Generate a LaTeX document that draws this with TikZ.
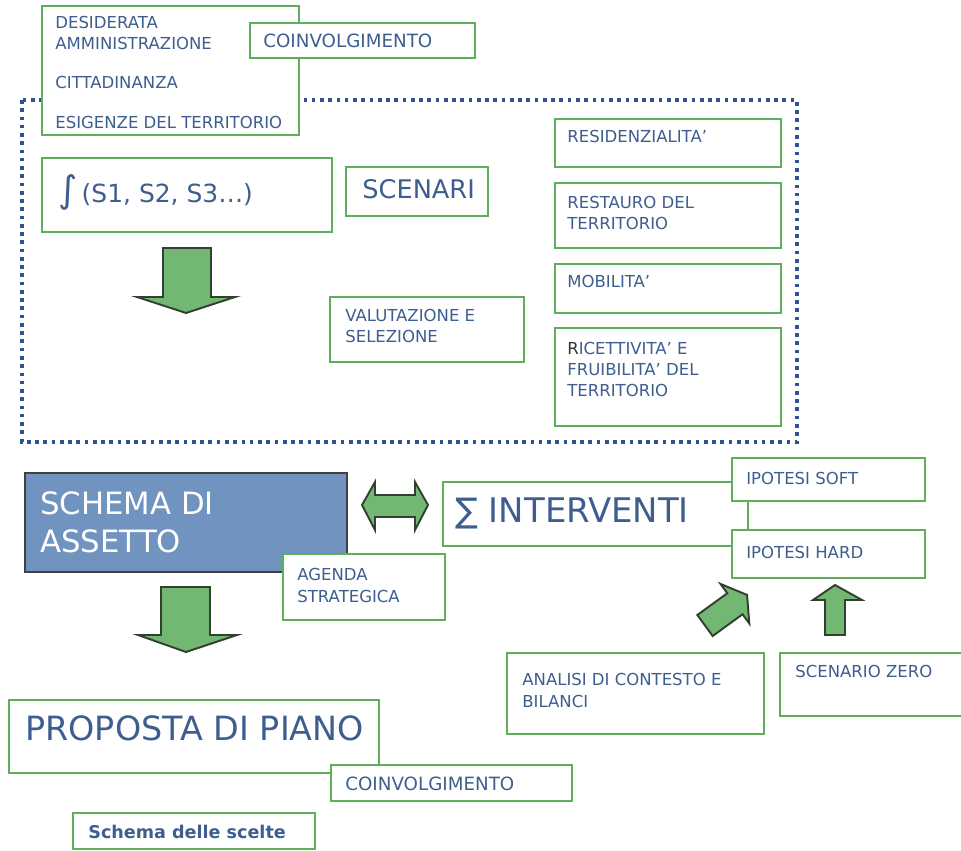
\documentclass[tikz,border=0pt]{standalone}
\usepackage{fontspec}
\setmainfont{DejaVu Sans}
\usetikzlibrary{fit}
\definecolor{txtblue}{HTML}{3D5E8E}
\definecolor{boxgreen}{HTML}{5EAE5A}
\definecolor{arrowfill}{HTML}{72B872}
\definecolor{arrowline}{HTML}{33402F}
\definecolor{assetto}{HTML}{7093C0}
\definecolor{frameblue}{HTML}{2F5290}

\tikzset{
  box/.style={draw=boxgreen, line width=1.1pt, fill=white, inner sep=0pt},
  txt/.style={text=txtblue, inner sep=0pt, anchor=base west, align=left,
    font=\fontsize{9.4}{12}\selectfont},
  midtxt/.style={txt, font=\fontsize{10.4}{13}\selectfont},
  bigtxt/.style={txt, font=\fontsize{#1}{#1}\selectfont},
  bigarrow/.style={draw=arrowline, fill=arrowfill, line width=1.1pt, line join=miter},
  frame/.style={draw=frameblue, line width=2.1pt, dash pattern=on 2.1pt off 2.6pt}
}

\begin{document}
\begin{tikzpicture}[x=0.02cm, y=-0.02cm]
  \useasboundingbox (0,0) rectangle (961,851);

  % scenario frame
  \draw[frame] (22,100) rectangle (797,442);

  \node[box, fit={(42,6) (299,135)}] (desid) {};
  \node[txt] (desidA) at (55,50) {DESIDERATA\\AMMINISTRAZIONE};
  \node[txt] (desidB) at (55,89) {CITTADINANZA};
  \node[txt] (desidC) at (55,129) {ESIGENZE DEL TERRITORIO};
  \node[box, fit={(250,23) (475,58)}] (coinvA) {};
  \node[midtxt] (coinvAT) at (263,48) {COINVOLGIMENTO};

  \node[box, fit={(42,158) (332,232)}] (integ) {};
  \node[bigtxt=14.2] (integT) at (58,203) {{\fontsize{21}{21}\selectfont ∫}\,(S1, S2, S3…)};
  \node[box, fit={(346,167) (488,216)}] (scen) {};
  \node[bigtxt=14.6] (scenT) at (362,199) {SCENARI};

  \draw[bigarrow] (163,248) -- (211,248) -- (211,297) -- (235,297) -- (186,313)
    -- (137,297) -- (163,297) -- cycle;

  \node[box, fit={(330,297) (524,362)}] (valut) {};
  \node[txt] (valutT) at (345,343) {VALUTAZIONE E\\SELEZIONE};

  \node[box, fit={(555,119) (781,167)}] (resid) {};
  \node[txt] (residT) at (567,143) {RESIDENZIALITA'};
  \node[box, fit={(555,183) (781,248)}] (restauro) {};
  \node[txt] (restauroT) at (567,230) {RESTAURO DEL\\TERRITORIO};
  \node[box, fit={(555,264) (781,313)}] (mobil) {};
  \node[txt] (mobilT) at (567,288) {MOBILITA'};
  \node[box, fit={(555,328) (781,426)}] (ricett) {};
  \node[txt] (ricettT) at (567,397) {{\color{black!80}R}ICETTIVITA' E\\FRUIBILITA' DEL\\TERRITORIO};

  % schema di assetto and interventi
  \node[draw=black!75, fill=assetto, line width=1.1pt, inner sep=0pt,
    fit={(25,473) (347,572)}] (assetto) {};
  \node[txt, text=white, font=\fontsize{17.5}{21.5}\selectfont] (assettoT) at (40,552) {SCHEMA DI\\ASSETTO};

  \draw[bigarrow] (362,505) -- (375,482) -- (375,495) -- (415,495) -- (415,482)
    -- (428,505) -- (415,530) -- (415,517) -- (375,517) -- (375,530) -- cycle;

  \node[box, fit={(283,554) (445,620)}] (agenda) {};
  \node[txt] (agendaT) at (297,602) {AGENDA\\STRATEGICA};

  \node[box, fit={(443,482) (748,546)}] (interv) {};
  \node[bigtxt=19.3] (intervT) at (455,522) {∑ INTERVENTI};
  \node[box, fit={(732,458) (925,501)}] (soft) {};
  \node[txt] (softT) at (746,484) {IPOTESI SOFT};
  \node[box, fit={(732,530) (925,578)}] (hard) {};
  \node[txt] (hardT) at (746,559) {IPOTESI HARD};

  \draw[bigarrow, shift={(705,625.5)}, rotate=36] (0,-13) -- (37,-13) -- (37,-24.5)
    -- (52,0) -- (37,24.5) -- (37,13) -- (0,13) -- cycle;
  \draw[bigarrow] (825,635) -- (845,635) -- (845,600) -- (862,600) -- (835,585)
    -- (813,600) -- (825,600) -- cycle;

  \node[box, fit={(507,653) (764,734)}] (analisi) {};
  \node[txt] (analisiT) at (522,707) {ANALISI DI CONTESTO E\\BILANCI};
  \node[box, fit={(780,653) (975,716)}] (zero) {};
  \node[txt] (zeroT) at (795,677) {SCENARIO ZERO};

  % piano
  \draw[bigarrow] (161,587) -- (210,587) -- (210,635) -- (237,635) -- (186,652)
    -- (138,635) -- (161,635) -- cycle;

  \node[box, fit={(9,700) (379,773)}] (piano) {};
  \node[bigtxt=19] (pianoT) at (25,740) {PROPOSTA DI PIANO};
  \node[box, fit={(331,765) (572,801)}] (coinvB) {};
  \node[midtxt] (coinvBT) at (345,790) {COINVOLGIMENTO};

  \node[box, fit={(73,813) (315,849)}] (scelte) {};
  \node[txt, font=\fontsize{10}{12}\bfseries] (scelteT) at (88,838) {Schema delle scelte};
\end{tikzpicture}
\end{document}
